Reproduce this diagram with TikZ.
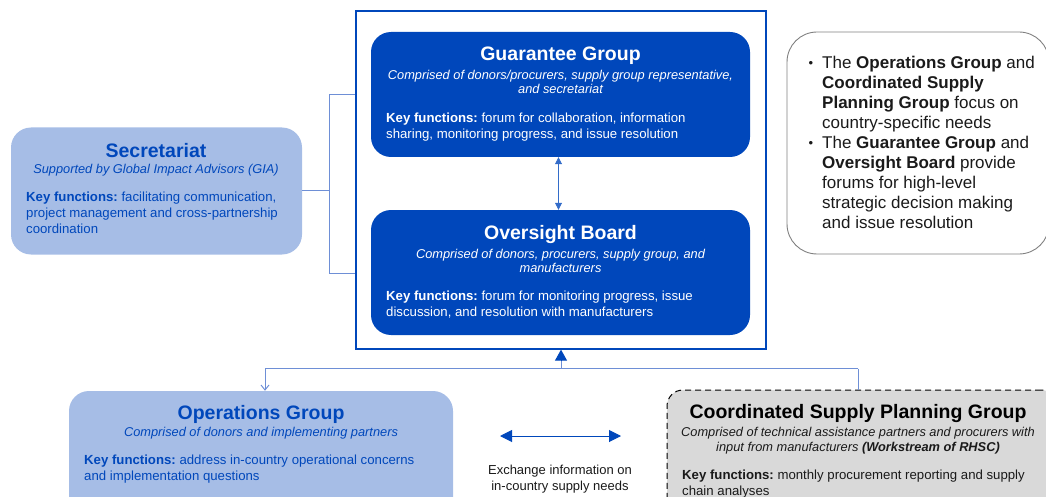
\documentclass[tikz,border=0pt]{standalone}
\usepackage{fontspec}
\setmainfont{Liberation Sans}
\usetikzlibrary{arrows.meta}
\frenchspacing
\definecolor{dblue}{HTML}{0047BB}
\definecolor{lblue}{HTML}{A6BDE6}
\definecolor{lineblue}{HTML}{6E8FD6}
\definecolor{cgray}{HTML}{D9D9D9}
\definecolor{notegray}{HTML}{808080}
\definecolor{txt}{HTML}{1A1A1A}
\begin{document}
\begin{tikzpicture}[x=1pt,y=-1pt,
  darkbox/.style={fill=dblue, draw=none, rounded corners=20pt, inner sep=0pt},
  lightbox/.style={fill=lblue, draw=none, rounded corners=20pt, inner sep=0pt},
  graybox/.style={fill=cgray, draw=black, dashed, dash pattern=on 6pt off 4pt, line width=1pt, rounded corners=16pt, inner sep=0pt},
  notebox/.style={draw=notegray, line width=0.9pt, rounded corners=30pt, inner sep=0pt},
  frame/.style={draw=dblue, line width=1.3pt, inner sep=0pt},
  ttl/.style={font=\fontsize{19.5}{22}\selectfont\bfseries, inner sep=0pt},
  sub/.style={font=\fontsize{12.8}{14.5}\selectfont\itshape, align=center, inner sep=0pt},
  body/.style={font=\fontsize{13.2}{16}\selectfont, align=left, inner sep=0pt, anchor=west},
  notetext/.style={font=\fontsize{17}{20}\selectfont, align=left, inner sep=0pt, anchor=north west, text=txt},
  bullet/.style={font=\fontsize{13}{13}\selectfont, inner sep=0pt, text=txt},
  conn/.style={draw=lineblue, line width=1pt},
]
\useasboundingbox (0,0) rectangle (1046,497);

% Frame and top boxes
\node[frame, minimum width=410pt, minimum height=338pt] (frame) at (561,180) {};
\node[darkbox, minimum width=379pt, minimum height=125pt] (gg) at (560.5,94.5) {};
\node[darkbox, minimum width=379pt, minimum height=125pt] (ob) at (560.5,272.5) {};

\node[ttl, text=white] (ggt) at (560.5,56) {Guarantee Group};
\node[sub, text=white] (ggs) at (560.5,82) {Comprised of donors/procurers, supply group representative,\\and secretariat};
\node[body, text=white] (ggb) at (386,127) {\textbf{Key functions:} forum for collaboration, information\\sharing, monitoring progress, and issue resolution};

\node[ttl, text=white] (obt) at (560.5,235) {Oversight Board};
\node[sub, text=white] (obs) at (560.5,261) {Comprised of donors, procurers, supply group, and\\manufacturers};
\node[body, text=white] (obb) at (386,305) {\textbf{Key functions:} forum for monitoring progress, issue\\discussion, and resolution with manufacturers};

\draw[draw=dblue!80, line width=0.8pt, {Triangle[length=7pt,width=7pt]}-{Triangle[length=7pt,width=7pt]}] (gg.south -| 558.5,0) -- (ob.north -| 558.5,0);

% Secretariat
\node[lightbox, minimum width=291pt, minimum height=127pt] (sec) at (156.5,191) {};
\node[ttl, text=dblue] (sect) at (156,151) {Secretariat};
\node[sub, text=dblue] (secs) at (156,170.5) {Supported by Global Impact Advisors (GIA)};
\node[body, text=dblue] (secb) at (26,213) {\textbf{Key functions:} facilitating communication,\\project management and cross-partnership\\coordination};

\coordinate (brtop) at (329,94.5);
\coordinate (brbot) at (329,273);
\draw[conn] (sec.east) -- (sec.east -| brtop);
\draw[conn] (frame.west |- brtop) -- (brtop) -- (brbot) -- (frame.west |- brbot);

% Note box
\node[notebox, minimum width=262pt, minimum height=222pt] (note) at (918,143) {};
\node[bullet] (b1) at (811,64.5) {•};
\node[notetext] (n1) at (822,55.5) {The \textbf{Operations Group} and\\\textbf{Coordinated Supply}\\\textbf{Planning Group} focus on\\country-specific needs};
\node[bullet] (b2) at (811,144.5) {•};
\node[notetext] (n2) at (822,135.5) {The \textbf{Guarantee Group} and\\\textbf{Oversight Board} provide\\forums for high-level\\strategic decision making\\and issue resolution};

% Bottom boxes
\node[lightbox, minimum width=384pt, minimum height=130pt] (ops) at (261,456) {};
\node[ttl, text=dblue] (opst) at (261,414) {Operations Group};
\node[sub, text=dblue] (opss) at (261,433) {Comprised of donors and implementing partners};
\node[body, text=dblue] (opsb) at (84,469) {\textbf{Key functions:} address in-country operational concerns\\and implementation questions};

\node[graybox, minimum width=390pt, minimum height=130pt] (cspg) at (862,455) {};
\node[ttl, text=black] (cspgt) at (858,413) {Coordinated Supply Planning Group};
\node[sub, text=txt] (cspgs) at (858,440.5) {Comprised of technical assistance partners and procurers with\\input from manufacturers \textbf{(Workstream of RHSC)}};
\node[body, text=txt] (cspgb) at (682,484) {\textbf{Key functions:} monthly procurement reporting and supply\\chain analyses};

% Connectors at bottom
\coordinate (hl) at (265,368.5);
\coordinate (hr) at (858,368.5);
\coordinate (hm) at (561,368.5);
\draw[conn] (hl) -- (hr);
\draw[conn, -{Straight Barb[length=5pt,width=8pt]}] (hl) -- (ops.north -| hl);
\draw[conn] (hr) -- (cspg.north -| hr);
\draw[conn, -{Triangle[length=11pt,width=12pt,fill=dblue]}, color=dblue] (hm) -- (frame.south -| hm);
\draw[conn] (hm) -- ++(0,-8);

% Exchange arrow
\coordinate (exl) at (500,436);
\coordinate (exr) at (621,436);
\draw[draw=dblue, line width=1pt, {Triangle[length=12pt,width=12pt]}-{Triangle[length=12pt,width=12pt]}] (exl) -- (exr);
\node[inner sep=0pt, align=center, text=txt, font=\fontsize{13}{16}\selectfont] (exch) at (560,479) {Exchange information on\\in-country supply needs};
\end{tikzpicture}
\end{document}
